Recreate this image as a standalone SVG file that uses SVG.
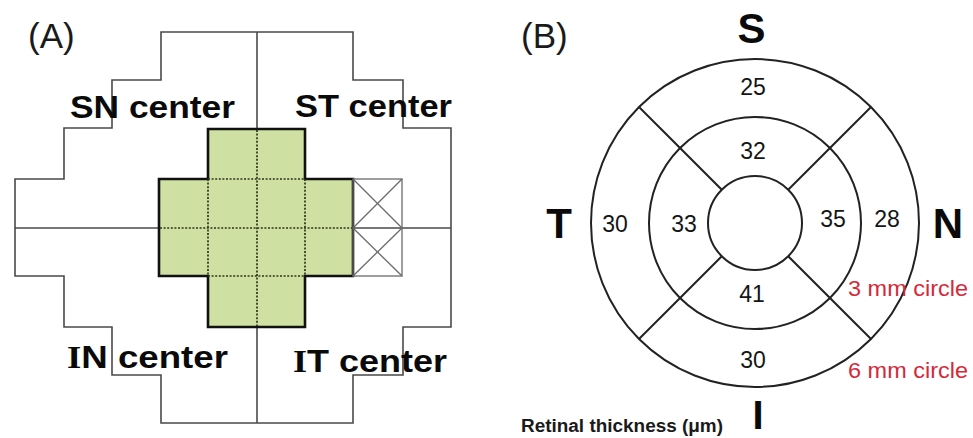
<svg xmlns="http://www.w3.org/2000/svg" width="973" height="438" viewBox="0 0 973 438">
  <style>
    .grid { fill: none; stroke: #4a4a4a; stroke-width: 1.6; }
    .thin { fill: none; stroke: #6a6a6a; stroke-width: 1.3; }
    .green { fill: #cfe1a2; stroke: #111; stroke-width: 2.6; stroke-linejoin: miter; }
    .dots { fill: none; stroke: #2e341c; stroke-width: 1.7; stroke-dasharray: 2 1.6; }
    .ring { fill: none; stroke: #222; stroke-width: 2; }
    .panel { font-family: "Liberation Sans", Arial, sans-serif; font-size: 35px; fill: #1a1a1a; }
    .zone { font-family: "Liberation Sans", Arial, sans-serif; font-size: 32px; font-weight: bold; fill: #0a0a0a; }
    .serif { font-family: "Liberation Serif", "Times New Roman", serif; }
    .axis { font-family: "Liberation Sans", Arial, sans-serif; font-size: 42px; font-weight: bold; fill: #0a0a0a; text-anchor: middle; }
    .val { font-family: "Liberation Sans", Arial, sans-serif; font-size: 23px; fill: #151515; text-anchor: middle; }
    .red { font-family: "Liberation Sans", Arial, sans-serif; font-size: 22.5px; fill: #d42a3a; }
    .note { font-family: "Liberation Sans", Arial, sans-serif; font-size: 18px; font-weight: bold; fill: #1a1a1a; }
  </style>
  <rect width="973" height="438" fill="#ffffff"/>

  <!-- Panel A: macular grid -->
  <g id="panel-a">
    <text class="panel" x="28" y="48">(A)</text>

    <g id="grid-outline">
      <path class="grid" d="M161,32 H353 V80 H403 V128 H451 V327 H403 V375 H353 V423 H161 V375 H112 V327 H64 V276 H15 V179 H64 V128 H112 V80 H161 Z"/>
      <line class="grid" x1="257" y1="32" x2="257" y2="129"/>
      <line class="grid" x1="257" y1="327" x2="257" y2="423"/>
      <line class="grid" x1="15" y1="228" x2="159" y2="228"/>
      <line class="grid" x1="353" y1="228" x2="451" y2="228"/>
    </g>

    <g id="center-cross">
      <path class="green" d="M208,129 H305 V179 H353 V276 H305 V327 H208 V276 H159 V179 H208 Z"/>
      <line class="dots" x1="257" y1="130" x2="257" y2="326"/>
      <line class="dots" x1="208" y1="179" x2="208" y2="276"/>
      <line class="dots" x1="305" y1="179" x2="305" y2="276"/>
      <line class="dots" x1="208" y1="179" x2="305" y2="179"/>
      <line class="dots" x1="208" y1="276" x2="305" y2="276"/>
      <line class="dots" x1="160" y1="228" x2="352" y2="228"/>
    </g>

    <g id="excluded-cells">
      <rect class="thin" x="353" y="179" width="49" height="97"/>
      <line class="thin" x1="353" y1="179" x2="402" y2="228"/>
      <line class="thin" x1="402" y1="179" x2="353" y2="228"/>
      <line class="thin" x1="353" y1="228" x2="402" y2="276"/>
      <line class="thin" x1="402" y1="228" x2="353" y2="276"/>
    </g>

    <g id="zone-labels">
      <text class="zone" x="70" y="118" textLength="165" lengthAdjust="spacingAndGlyphs">SN center</text>
      <text class="zone" x="295" y="117" textLength="157" lengthAdjust="spacingAndGlyphs">ST center</text>
      <text class="zone" x="67" y="368" textLength="161" lengthAdjust="spacingAndGlyphs"><tspan class="serif">I</tspan>N center</text>
      <text class="zone" x="293" y="372" textLength="154" lengthAdjust="spacingAndGlyphs"><tspan class="serif">I</tspan>T center</text>
    </g>
  </g>

  <!-- Panel B: ETDRS thickness map -->
  <g id="panel-b">
    <text class="panel" x="521" y="48">(B)</text>

    <g id="rings">
      <circle class="ring" cx="755" cy="223" r="164"/>
      <circle class="ring" cx="755" cy="223" r="106"/>
      <circle class="ring" cx="755" cy="223" r="47"/>
    </g>

    <g id="dividers">
      <line class="ring" x1="721.8" y1="189.8" x2="639" y2="107"/>
      <line class="ring" x1="788.2" y1="189.8" x2="871" y2="107"/>
      <line class="ring" x1="721.8" y1="256.2" x2="639" y2="339"/>
      <line class="ring" x1="788.2" y1="256.2" x2="871" y2="339"/>
    </g>

    <g id="sector-values">
      <text class="val" x="753" y="95">25</text>
      <text class="val" x="753" y="159">32</text>
      <text class="val" x="615" y="232">30</text>
      <text class="val" x="684" y="232">33</text>
      <text class="val" x="833" y="227">35</text>
      <text class="val" x="887" y="227">28</text>
      <text class="val" x="752" y="302">41</text>
      <text class="val" x="753" y="368">30</text>
    </g>

    <g id="orientation">
      <text class="axis" x="751.5" y="43">S</text>
      <text class="axis" x="559" y="238">T</text>
      <text class="axis" x="948" y="238">N</text>
      <text class="axis serif" x="758" y="429" style="font-size:40px">I</text>
    </g>

    <g id="ring-labels">
      <text class="red" x="848" y="296" textLength="120" lengthAdjust="spacingAndGlyphs">3 mm circle</text>
      <text class="red" x="848" y="378" textLength="120" lengthAdjust="spacingAndGlyphs">6 mm circle</text>
    </g>

    <text class="note" x="521" y="432" textLength="202" lengthAdjust="spacingAndGlyphs">Retinal thickness (μm)</text>
  </g>
</svg>
